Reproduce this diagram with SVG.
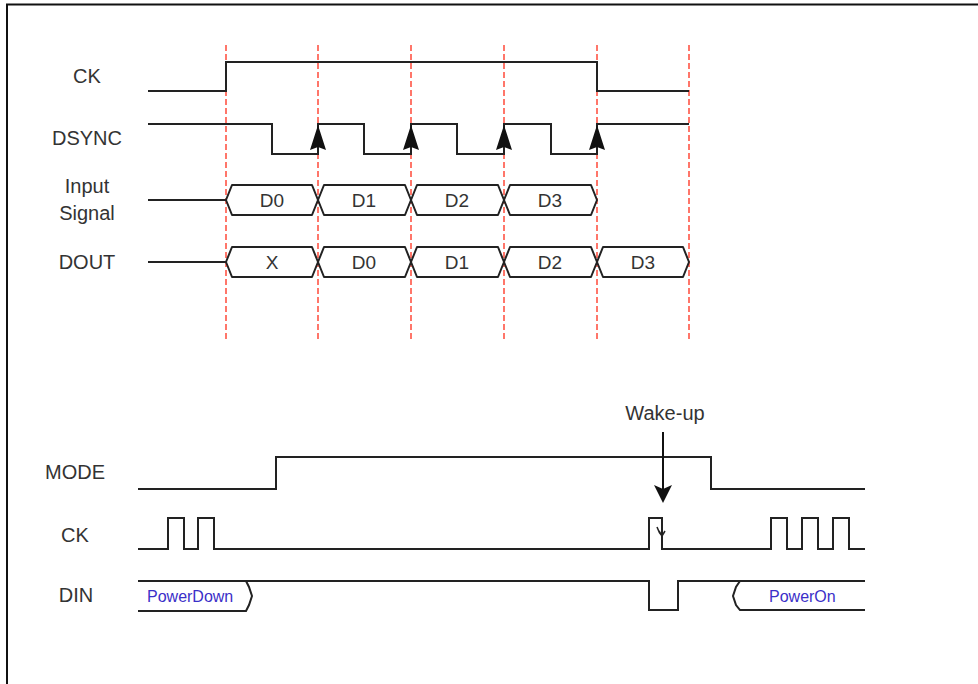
<svg xmlns="http://www.w3.org/2000/svg" width="978" height="684" viewBox="0 0 978 684">
<style>
.w{fill:none;stroke:#222;stroke-width:2;stroke-linejoin:miter}
.bus{fill:#fff;stroke:#222;stroke-width:2;stroke-linejoin:round}
.g{fill:none;stroke:#ff4a3a;stroke-width:1.5;stroke-dasharray:6 3}
.lb{font-family:"Liberation Sans",Arial,sans-serif;font-size:20px;fill:#333;text-anchor:middle}
.bl{font-family:"Liberation Sans",Arial,sans-serif;font-size:19px;fill:#333;text-anchor:middle}
.pw{font-family:"Liberation Sans",Arial,sans-serif;font-size:16px;fill:#3b2fc8}
.ah{fill:#111;stroke:none}
</style>
<rect width="978" height="684" fill="#fff"/>
<path d="M7,684 V4.5 H978" fill="none" stroke="#111" stroke-width="2"/>

<g id="guides">
<line class="g" x1="226" y1="45" x2="226" y2="340"/>
<line class="g" x1="318" y1="45" x2="318" y2="340"/>
<line class="g" x1="411" y1="45" x2="411" y2="340"/>
<line class="g" x1="504" y1="45" x2="504" y2="340"/>
<line class="g" x1="597" y1="45" x2="597" y2="340"/>
<line class="g" x1="689" y1="45" x2="689" y2="340"/>
</g>

<g id="ck-top">
<text class="lb" x="87" y="83">CK</text>
<path class="w" d="M148,91 H226 V62 H597 V91 H689"/>
</g>

<g id="dsync">
<text class="lb" x="87" y="145">DSYNC</text>
<path class="w" d="M148,124 H272 V154 H318 V124 H364 V154 H411 V124 H457 V154 H504 V124 H551 V154 H597 V124 H689"/>
<polygon class="ah" points="318,125 310,150 318,147 326,150"/>
<polygon class="ah" points="411,125 403,150 411,147 419,150"/>
<polygon class="ah" points="504,125 496,150 504,147 512,150"/>
<polygon class="ah" points="597,125 589,150 597,147 605,150"/>
</g>

<g id="input-signal">
<text class="lb" x="87" y="193">Input</text>
<text class="lb" x="87" y="220">Signal</text>
<path class="w" d="M148,200 H226"/>
<path class="bus" d="M226,200 L232,185 H312 L318,200 L312,215 H232 Z"/>
<path class="bus" d="M318,200 L324,185 H405 L411,200 L405,215 H324 Z"/>
<path class="bus" d="M411,200 L417,185 H498 L504,200 L498,215 H417 Z"/>
<path class="bus" d="M504,200 L510,185 H591 L597,200 L591,215 H510 Z"/>
<text class="bl" x="272" y="207">D0</text>
<text class="bl" x="364" y="207">D1</text>
<text class="bl" x="457" y="207">D2</text>
<text class="bl" x="550" y="207">D3</text>
</g>

<g id="dout">
<text class="lb" x="87" y="269">DOUT</text>
<path class="w" d="M148,262 H226"/>
<path class="bus" d="M226,262 L232,247 H312 L318,262 L312,277 H232 Z"/>
<path class="bus" d="M318,262 L324,247 H405 L411,262 L405,277 H324 Z"/>
<path class="bus" d="M411,262 L417,247 H498 L504,262 L498,277 H417 Z"/>
<path class="bus" d="M504,262 L510,247 H591 L597,262 L591,277 H510 Z"/>
<path class="bus" d="M597,262 L603,247 H683 L689,262 L683,277 H603 Z"/>
<text class="bl" x="272" y="269">X</text>
<text class="bl" x="364" y="269">D0</text>
<text class="bl" x="457" y="269">D1</text>
<text class="bl" x="550" y="269">D2</text>
<text class="bl" x="643" y="269">D3</text>
</g>

<g id="mode">
<text class="lb" x="75" y="479">MODE</text>
<path class="w" d="M138,489 H276 V457 H711 V489 H865"/>
</g>

<g id="ck-bottom">
<text class="lb" x="75" y="542">CK</text>
<path class="w" d="M138,549 H168 V518 H184 V549 H198 V518 H214 V549 H649 V518 H662 V549 H771 V518 H787 V549 H802 V518 H818 V549 H833 V518 H849 V549 H865"/>
<path d="M657,527 Q659,533 662,536 M659,531 L662,536 L665,531" fill="none" stroke="#222" stroke-width="1.5"/>
</g>

<g id="din">
<text class="lb" x="76" y="602">DIN</text>
<path class="w" d="M138,581 H649 V610 H678 V581 H865"/>
<path class="w" d="M138,611 H246 L249,605 L252,596 L249,587 L246,581"/>
<path class="w" d="M865,610 H740 L736,605 L733,596 L736,587 L740,581"/>
<text class="pw" x="147" y="602">PowerDown</text>
<text class="pw" x="769" y="602">PowerOn</text>
</g>

<g id="connectors">
<text class="lb" x="665" y="420">Wake-up</text>
<line x1="663" y1="432" x2="663" y2="492" stroke="#111" stroke-width="2"/>
<polygon class="ah" points="663,503 654,485 663,489 672,485"/>
</g>
</svg>
